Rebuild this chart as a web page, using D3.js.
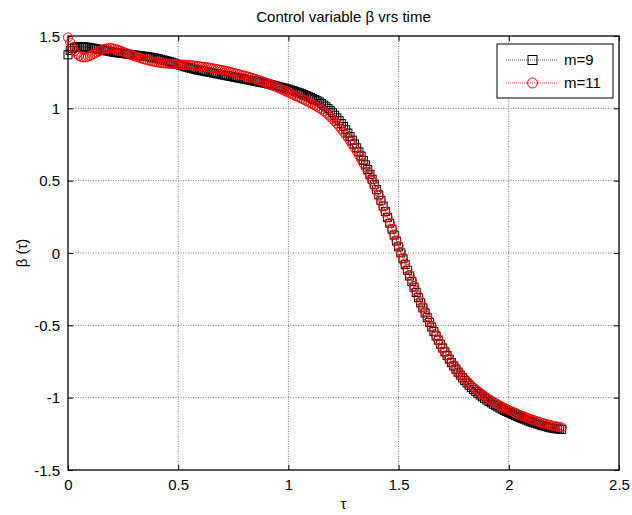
<!DOCTYPE html>
<html><head><meta charset="utf-8">
<script src="https://cdn.jsdelivr.net/npm/d3@7"></script>
<style>
html,body{margin:0;padding:0;background:#fff;}
svg{display:block;font-family:"Liberation Sans",Arial,sans-serif;}
</style></head>
<body>
<svg id="chart" width="632" height="515"></svg>
<script>
// ---- data ----
const tauStart = 0, tauStep = 0.01;
const betaM9 = [
1.370,1.400,1.415,1.422,1.425,1.426,1.426,1.425,1.424,1.422,
1.420,1.417,1.414,1.411,1.408,1.405,1.402,1.399,1.396,1.393,
1.390,1.387,1.385,1.383,1.381,1.379,1.377,1.375,1.373,1.371,
1.369,1.367,1.365,1.363,1.361,1.359,1.357,1.355,1.352,1.349,
1.346,1.343,1.339,1.335,1.331,1.327,1.323,1.318,1.313,1.308,
1.303,1.298,1.293,1.288,1.284,1.280,1.276,1.272,1.268,1.265,
1.262,1.259,1.256,1.253,1.250,1.247,1.244,1.241,1.238,1.235,
1.232,1.229,1.226,1.223,1.220,1.217,1.214,1.211,1.208,1.205,
1.202,1.199,1.196,1.193,1.190,1.187,1.184,1.181,1.178,1.175,
1.172,1.168,1.164,1.160,1.156,1.152,1.148,1.144,1.140,1.136,
1.132,1.127,1.122,1.117,1.112,1.107,1.101,1.095,1.089,1.083,
1.076,1.069,1.061,1.053,1.044,1.034,1.023,1.011,0.998,0.984,
0.969,0.952,0.934,0.915,0.895,0.874,0.852,0.829,0.805,0.780,
0.754,0.727,0.699,0.670,0.640,0.609,0.577,0.544,0.510,0.475,
0.439,0.402,0.364,0.325,0.286,0.246,0.206,0.165,0.124,0.083,
0.042,0.001,-0.040,-0.080,-0.120,-0.159,-0.198,-0.236,-0.273,-0.309,
-0.345,-0.380,-0.414,-0.447,-0.480,-0.512,-0.543,-0.573,-0.602,-0.630,
-0.657,-0.683,-0.709,-0.734,-0.758,-0.781,-0.803,-0.824,-0.844,-0.863,
-0.881,-0.898,-0.914,-0.929,-0.943,-0.957,-0.970,-0.982,-0.994,-1.005,
-1.016,-1.026,-1.036,-1.046,-1.055,-1.064,-1.072,-1.080,-1.088,-1.096,
-1.103,-1.110,-1.117,-1.124,-1.131,-1.137,-1.143,-1.149,-1.155,-1.161,
-1.167,-1.172,-1.177,-1.182,-1.187,-1.192,-1.196,-1.200,-1.204,-1.208,
-1.211,-1.214,-1.216,-1.218,-1.219
];
const betaM11 = [
1.490,1.455,1.420,1.395,1.375,1.362,1.355,1.352,1.353,1.357,
1.363,1.370,1.378,1.386,1.394,1.401,1.407,1.412,1.415,1.416,
1.415,1.412,1.408,1.403,1.397,1.391,1.385,1.379,1.373,1.367,
1.361,1.356,1.351,1.346,1.341,1.337,1.333,1.329,1.325,1.322,
1.319,1.316,1.314,1.312,1.310,1.309,1.308,1.307,1.306,1.305,
1.304,1.303,1.302,1.301,1.300,1.299,1.298,1.296,1.294,1.292,
1.290,1.288,1.286,1.284,1.282,1.279,1.276,1.273,1.270,1.267,
1.264,1.261,1.258,1.254,1.250,1.246,1.242,1.238,1.234,1.230,
1.226,1.222,1.218,1.213,1.208,1.203,1.198,1.193,1.188,1.182,
1.176,1.170,1.164,1.158,1.151,1.144,1.137,1.130,1.123,1.116,
1.109,1.102,1.095,1.088,1.081,1.074,1.067,1.060,1.052,1.044,
1.036,1.028,1.020,1.011,1.002,0.992,0.981,0.969,0.956,0.942,
0.927,0.911,0.894,0.876,0.857,0.837,0.816,0.795,0.773,0.750,
0.726,0.701,0.675,0.648,0.620,0.591,0.561,0.530,0.498,0.465,
0.431,0.396,0.360,0.323,0.285,0.246,0.207,0.167,0.127,0.087,
0.047,0.007,-0.033,-0.073,-0.112,-0.151,-0.189,-0.227,-0.264,-0.300,
-0.335,-0.370,-0.404,-0.437,-0.469,-0.505,-0.538,-0.570,-0.600,-0.629,
-0.656,-0.682,-0.707,-0.731,-0.754,-0.776,-0.797,-0.817,-0.836,-0.854,
-0.871,-0.887,-0.902,-0.916,-0.930,-0.943,-0.955,-0.967,-0.978,-0.989,
-1.000,-1.010,-1.020,-1.029,-1.038,-1.047,-1.055,-1.063,-1.071,-1.078,
-1.085,-1.092,-1.099,-1.106,-1.113,-1.119,-1.125,-1.131,-1.137,-1.143,
-1.149,-1.154,-1.159,-1.164,-1.169,-1.174,-1.178,-1.182,-1.186,-1.190,
-1.194,-1.197,-1.200,-1.203,-1.206
];
const xTicks = [0, 0.5, 1, 1.5, 2, 2.5];
const yTicks = [-1.5, -1, -0.5, 0, 0.5, 1, 1.5];
const seriesNames = ["m=9", "m=11"];
const titleText = "Control variable \u03B2 vrs time";
const xLabelText = "\u03C4";
const yLabelText = "\u03B2 (\u03C4)";

// ---- layout ----
const svg = d3.select("#chart");
const L = 68, R = 619, T = 36, B = 470;
const x = d3.scaleLinear().domain([0, 2.5]).range([L, R]);
const y = d3.scaleLinear().domain([-1.5, 1.5]).range([B, T]);
const fs = 15;
const fmt = d => String(d);  // plain hyphen-minus as in the reference

// grid
const grid = svg.append("g").attr("stroke", "#777").attr("stroke-width", 1)
  .attr("stroke-dasharray", "1,1.5").attr("fill", "none");
xTicks.slice(1, -1).forEach(t => grid.append("line")
  .attr("x1", x(t)).attr("x2", x(t)).attr("y1", T).attr("y2", B));
yTicks.slice(1, -1).forEach(t => grid.append("line")
  .attr("x1", L).attr("x2", R).attr("y1", y(t)).attr("y2", y(t)));

// axes (ticks inward on all sides)
const tickLen = 5;
const axB = svg.append("g").attr("transform", `translate(0,${B})`)
  .call(d3.axisBottom(x).tickValues(xTicks).tickSizeInner(-tickLen).tickSizeOuter(0).tickPadding(9).tickFormat(fmt));
const axT = svg.append("g").attr("transform", `translate(0,${T})`)
  .call(d3.axisTop(x).tickValues(xTicks).tickSizeInner(-tickLen).tickSizeOuter(0).tickFormat(""));
const axL = svg.append("g").attr("transform", `translate(${L},0)`)
  .call(d3.axisLeft(y).tickValues(yTicks).tickSizeInner(-tickLen).tickSizeOuter(0).tickPadding(8).tickFormat(fmt));
const axR = svg.append("g").attr("transform", `translate(${R},0)`)
  .call(d3.axisRight(y).tickValues(yTicks).tickSizeInner(-tickLen).tickSizeOuter(0).tickFormat(""));
[axB, axT, axL, axR].forEach(a => {
  a.select(".domain").remove();
  a.selectAll("line").attr("stroke", "#000");
  a.selectAll("text").attr("font-size", fs).attr("font-family", "Liberation Sans, Arial, sans-serif").attr("fill", "#000");
});
axB.selectAll("text").attr("dy", "0.71em");
axL.selectAll("text").attr("dy", "0.35em");

// box
svg.append("rect").attr("x", L).attr("y", T).attr("width", R - L).attr("height", B - T)
  .attr("fill", "none").attr("stroke", "#000").attr("stroke-width", 1.3);

// series
const d9 = betaM9.map((v, i) => [tauStart + i * tauStep, v]);
const d11 = betaM11.map((v, i) => [tauStart + i * tauStep, v]);
const line = d3.line().x(d => x(d[0])).y(d => y(d[1]));
const plot = svg.append("g");
plot.append("path").datum(d9).attr("d", line).attr("fill", "none")
  .attr("stroke", "#000").attr("stroke-width", 0.7).attr("stroke-dasharray", "1,1");
plot.append("g").selectAll("rect").data(d9).join("rect")
  .attr("x", d => x(d[0]) - 4).attr("y", d => y(d[1]) - 4)
  .attr("width", 8).attr("height", 8)
  .attr("fill", "none").attr("stroke", "#000").attr("stroke-width", 1);
plot.append("path").datum(d11).attr("d", line).attr("fill", "none")
  .attr("stroke", "#ff0000").attr("stroke-width", 0.7).attr("stroke-dasharray", "1,1");
plot.append("g").selectAll("circle").data(d11).join("circle")
  .attr("cx", d => x(d[0])).attr("cy", d => y(d[1])).attr("r", 4.5)
  .attr("fill", "none").attr("stroke", "#ff0000").attr("stroke-width", 1);

// legend
const lg = svg.append("g");
lg.append("rect").attr("x", 497).attr("y", 44).attr("width", 116).attr("height", 54)
  .attr("fill", "#fff").attr("stroke", "#000").attr("stroke-width", 1);
const rows = [60, 83];
lg.append("line").attr("x1", 506).attr("x2", 557).attr("y1", rows[0]).attr("y2", rows[0])
  .attr("stroke", "#000").attr("stroke-width", 0.7).attr("stroke-dasharray", "1,1");
lg.append("rect").attr("x", 528).attr("y", rows[0] - 4.5).attr("width", 9).attr("height", 9)
  .attr("fill", "none").attr("stroke", "#000");
lg.append("line").attr("x1", 506).attr("x2", 557).attr("y1", rows[1]).attr("y2", rows[1])
  .attr("stroke", "#ff0000").attr("stroke-width", 0.7).attr("stroke-dasharray", "1,1");
lg.append("circle").attr("cx", 532.5).attr("cy", rows[1]).attr("r", 5)
  .attr("fill", "none").attr("stroke", "#ff0000");
seriesNames.forEach((n, i) => lg.append("text").attr("x", 564).attr("y", rows[i])
  .attr("dy", "0.35em").attr("font-size", fs).text(n));

// titles
svg.append("text").attr("x", (L + R) / 2).attr("y", 22).attr("text-anchor", "middle")
  .attr("font-size", fs).text(titleText);
svg.append("text").attr("x", (L + R) / 2).attr("y", 509).attr("text-anchor", "middle")
  .attr("font-size", fs).text(xLabelText);
svg.append("text").attr("transform", `translate(27,${(T + B) / 2}) rotate(-90)`)
  .attr("text-anchor", "middle").attr("font-size", fs).text(yLabelText);
</script>
</body></html>
